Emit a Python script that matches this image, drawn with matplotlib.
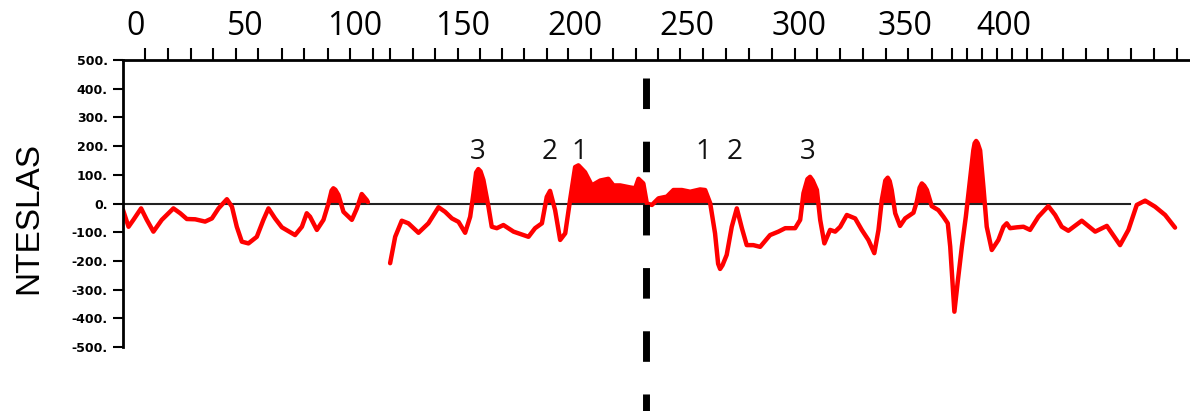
import numpy as np
import matplotlib
matplotlib.use('Agg')
import matplotlib.pyplot as plt

# profile west of the gap (distance, nT)
x_west = [-5.5, -3.0, -0.8, 2.7, 5.3, 8.3, 12.1, 17.4, 20.5, 23.5, 27.3, 31.8, 34.9, 37.9,
          41.7, 44.0, 46.2, 48.5, 51.5, 55.3, 58.3, 60.6, 63.6, 66.7, 72.7, 75.8, 78.0,
          79.5, 82.6, 85.6, 87.9, 89.3, 90.1, 91.0, 92.4, 94.7, 98.5, 100.8, 103.0,
          105.3, 105.8]
y_west = [-23, -81, -57, -17, -57, -98, -57, -17, -34, -54, -55, -63, -52, -17,
          15, -11, -81, -133, -139, -116, -57, -17, -52, -83, -110, -81, -34,
          -46, -92, -57, 1, 45, 53, 48, 30, -29, -57, -17, 33,
          12, 5]

# profile east of the gap
x_east = [115.9, 118.2, 121.2, 124.2, 128.8, 133.3, 137.9, 140.9, 144.0, 147.0, 150.0,
          152.3, 153.8, 155.0, 156.0, 157.0, 158.3, 160.6, 162.1, 164.4, 167.4, 172.0,
          176.5, 178.8, 181.8, 184.9, 187.1, 188.6, 190.9, 193.2, 195.5, 197.7, 200.0,
          201.5, 204.5, 207.6, 211.4, 215.1, 217.4, 220.5, 225.0, 227.3, 228.8, 231.0,
          232.6, 234.9, 237.9, 241.7, 244.7, 248.5, 252.3, 256.8, 259.1, 261.4, 263.6,
          265.0, 265.9, 267.0, 268.9, 271.2, 273.5, 275.8, 278.0, 281.0, 284.1, 288.6,
          292.4, 295.5, 300.0, 302.3, 303.8, 305.6, 306.8, 308.0, 309.9, 311.4, 313.3,
          315.9, 318.2, 320.5, 323.5, 327.3, 330.3, 333.3, 336.0, 337.9, 339.4, 341.0,
          342.1, 343.0, 343.9, 345.5, 347.7, 350.0, 353.8, 355.3, 356.6, 357.6, 358.7,
          359.9, 362.1, 365.1, 367.4, 369.4, 370.5, 371.5, 372.4, 374.0, 375.8, 377.6,
          379.1, 381.0, 381.6, 382.3, 383.0, 384.1, 385.6, 387.1, 389.4, 392.4, 394.7,
          396.2, 397.7, 400.8, 403.8, 406.8, 410.6, 415.1, 418.2, 421.2, 424.2, 430.3,
          436.4, 441.7, 447.7, 451.5, 455.3, 459.1, 463.6, 468.2, 472.7]
y_east = [-208, -116, -60, -69, -102, -69, -13, -29, -52, -64, -102,
          -46, 36, 108, 120, 112, 82, -11, -81, -86, -75, -98,
          -110, -116, -86, -69, 23, 44, -23, -127, -104, 12, 127,
          133, 109, 63, 80, 86, 63, 63, 56, 53, 86, 70,
          0, -5, 18, 24, 47, 47, 41, 49, 47, 1, -104,
          -210, -228, -215, -179, -81, -17, -86, -145, -145, -151, -110,
          -98, -86, -86, -57, 36, 85, 93, 80, 47, -57, -139,
          -92, -98, -81, -40, -52, -92, -127, -173, -92, 12, 80,
          90, 78, 47, -34, -78, -52, -32, 6, 55, 70, 62,
          47, -9, -23, -46, -69, -150, -267, -377, -267, -150, -46,
          57, 185, 210, 218, 210, 185, 57, -81, -162, -127, -81,
          -69, -86, -83, -81, -92, -46, -9, -40, -81, -95, -60,
          -98, -78, -145, -92, -5, 10, -11, -40, -84]

# anomaly numbers either side of the axis
anom_x = [155.9, 188.6, 201.8, 258.2, 272.7, 305.5]
anom_labels = ['3', '2', '1', '1', '2', '3']

ridge_x = 232.3

top_label_pos = [0, 50, 100, 149, 200, 251, 302, 350, 395]
top_labels = ['0', '50', '100', '150', '200', '250', '300', '350', '400']
top_minor = [4.5, 15, 25.5, 35.5, 45.9, 55.9, 66.8, 76.8, 87.7, 97.7, 108.2, 115.9,
             126.4, 136.4, 146.8, 156.8, 166.8, 176.8, 187.3, 196.8, 207.3, 217.3,
             227.7, 237.7, 247.7, 258.2, 268.6, 279.1, 289.5, 300, 310, 320.5, 330.9,
             341.4, 351.4, 362.3, 371.4, 378.2, 385, 391.8, 398.6, 405.5, 412.3, 421.8,
             432.3, 442.3, 452.7, 463.2, 473.6]

fig = plt.figure(figsize=(11.9, 4.11), dpi=100)
ax = fig.add_axes([0.1034, 0.1557, 0.8966, 0.6983])
ax.set_xlim(-5.5, 479.5)
ax.set_ylim(-500, 500)

for xs, ys in [(x_west, y_west), (x_east, y_east)]:
    xs = np.array(xs)
    ys = np.array(ys, dtype=float)
    ax.fill_between(xs, ys, 0, where=ys > 0, interpolate=True, color='#ff0000', lw=0)
    ax.plot(xs, ys, color='#ff0000', lw=3.2, solid_joinstyle='round', solid_capstyle='round')

ax.plot([-5.5, 452.3], [0, 0], color='#222222', lw=1.5, zorder=1)

ax.plot([ridge_x, ridge_x], [437, -723], color='black', lw=5, dashes=(4.4, 4.7),
        clip_on=False, zorder=5)

for xv, lab in zip(anom_x, anom_labels):
    ax.text(xv, 179, lab, ha='center', va='center', fontsize=20,
            family='Open Sans', color='#111111')

# axes frame: top and left only
for s in ['right', 'bottom']:
    ax.spines[s].set_visible(False)
ax.spines['top'].set_linewidth(2)
ax.spines['left'].set_linewidth(2)

ax.xaxis.set_ticks_position('top')
ax.set_xticks(top_label_pos)
ax.set_xticklabels(top_labels, family='Open Sans', fontsize=23)
ax.set_xticks(top_minor, minor=True)
ax.tick_params(axis='x', which='major', length=0, pad=12.5)
ax.tick_params(axis='x', which='minor', length=8.5, width=1.5, direction='out')

yt = list(range(-500, 501, 100))
ax.set_yticks(yt)
ax.set_yticklabels(['%d.' % v for v in yt], fontsize=9, fontweight='bold',
                   family='DejaVu Sans')
ax.tick_params(axis='y', length=7, width=1.5, direction='out', pad=4)

fig.text(29 / 1190, 1 - 218 / 411, 'NTESLAS', rotation=90, ha='center', va='center',
         fontsize=24, family='Liberation Sans')

fig.savefig('out.png', dpi=100)
